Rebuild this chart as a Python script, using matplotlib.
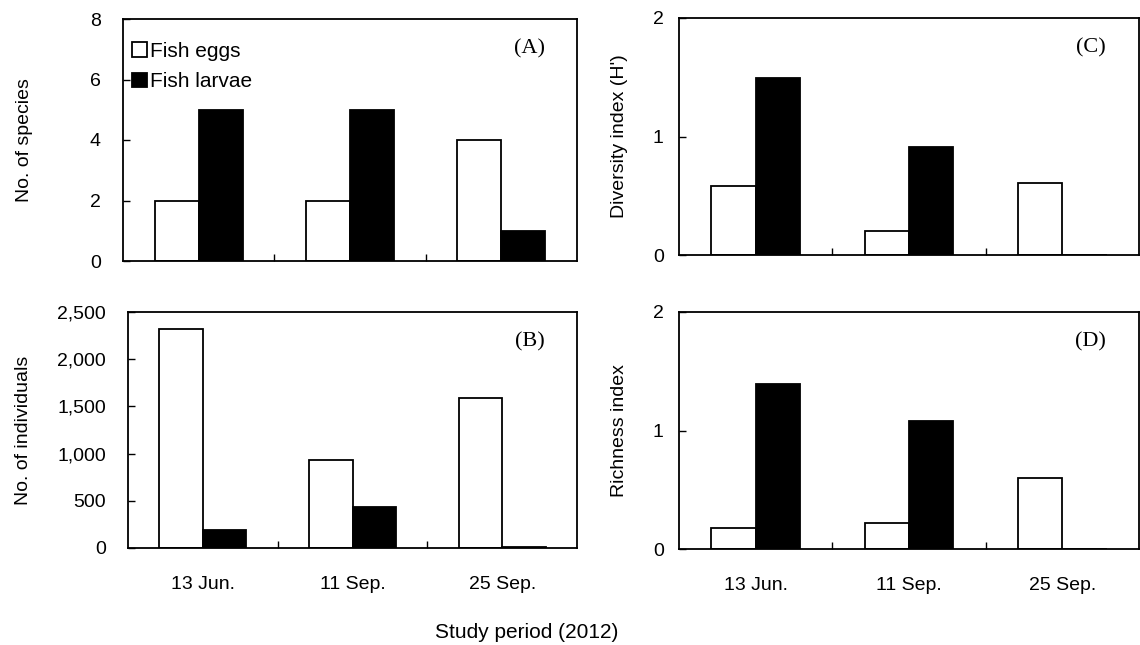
import matplotlib
matplotlib.use("Agg")
import matplotlib.pyplot as plt
import numpy as np
from matplotlib.ticker import FuncFormatter

plt.rcParams['font.family'] = ['Liberation Sans', 'DejaVu Sans']

# data
dates = ["13 Jun.", "11 Sep.", "25 Sep."]
species_eggs = [2, 2, 4]
species_larvae = [5, 5, 1]
indiv_eggs = [2324, 933, 1592]
indiv_larvae = [194, 433, 10]
diversity_eggs = [0.58, 0.20, 0.61]
diversity_larvae = [1.49, 0.91, 0]
richness_eggs = [0.18, 0.22, 0.60]
richness_larvae = [1.39, 1.08, 0]

W, H = 1140, 645
fig = plt.figure(figsize=(W / 100, H / 100), dpi=100)


def px_axes(x0, y0, x1, y1):
    # pixel box (left, top, right, bottom) -> figure fraction
    return fig.add_axes([x0 / W, 1 - y1 / H, (x1 - x0) / W, (y1 - y0) / H])


axA = px_axes(123, 19, 577, 261)
axB = px_axes(128, 312, 577, 548)
axC = px_axes(679, 18, 1139, 255)
axD = px_axes(679, 312, 1139, 549)

x = np.arange(len(dates))
bw = 0.29
FS = 14


def draw(ax, eggs, larvae, ymax, yticks, ylabel, tag, labx, bottom_row):
    ax.bar(x - bw / 2, eggs, bw, color='white', edgecolor='black', linewidth=1.3, label='Fish eggs')
    ax.bar(x + bw / 2, larvae, bw, color='black', edgecolor='black', linewidth=1.3, label='Fish larvae')
    ax.set_xlim(-0.5, len(dates) - 0.5)
    ax.set_ylim(0, ymax)
    ax.set_yticks(yticks)
    # category separators as ticks, labels at centres
    ax.set_xticks([0.5, 1.5])
    ax.set_xticklabels([])
    ax.set_xticks(x, minor=True)
    if bottom_row:
        ax.set_xticklabels(dates, minor=True, fontsize=FS)
    ax.tick_params(axis='x', which='major', direction='in', length=5, width=1)
    ax.tick_params(axis='x', which='minor', length=0, pad=20)
    ax.tick_params(axis='y', direction='in', length=5, width=1, labelsize=FS, pad=16)
    for s in ax.spines.values():
        s.set_linewidth(1.3)
    ax.set_ylabel(ylabel, fontsize=FS)
    ax.yaxis.set_label_coords(labx, 0.5)
    ax.text(0.895, 0.875, tag, transform=ax.transAxes, ha='center', va='center',
            fontsize=16, family='Liberation Serif')


draw(axA, species_eggs, species_larvae, 8, [0, 2, 4, 6, 8], "No. of species", "(A)", -0.199, False)
draw(axB, indiv_eggs, indiv_larvae, 2500, [0, 500, 1000, 1500, 2000, 2500], "No. of individuals", "(B)", -0.214, True)
draw(axC, diversity_eggs, diversity_larvae, 2, [0, 1, 2], "Diversity index (H')", "(C)", -0.111, False)
draw(axD, richness_eggs, richness_larvae, 2, [0, 1, 2], "Richness index", "(D)", -0.111, True)

axB.yaxis.set_major_formatter(FuncFormatter(lambda v, p: f"{int(v):,}"))
axC.tick_params(axis='y', pad=11)
axD.tick_params(axis='y', pad=11)

axA.legend(loc='upper left', bbox_to_anchor=(0.02, 0.905), frameon=False, fontsize=15,
           handlelength=0.7, handleheight=0.7, handletextpad=0.15, labelspacing=0.55,
           borderpad=0, borderaxespad=0)

fig.text(527 / W, 1 - 632 / H, "Study period (2012)", ha='center', va='center', fontsize=15)

fig.savefig("out.png", dpi=100)
